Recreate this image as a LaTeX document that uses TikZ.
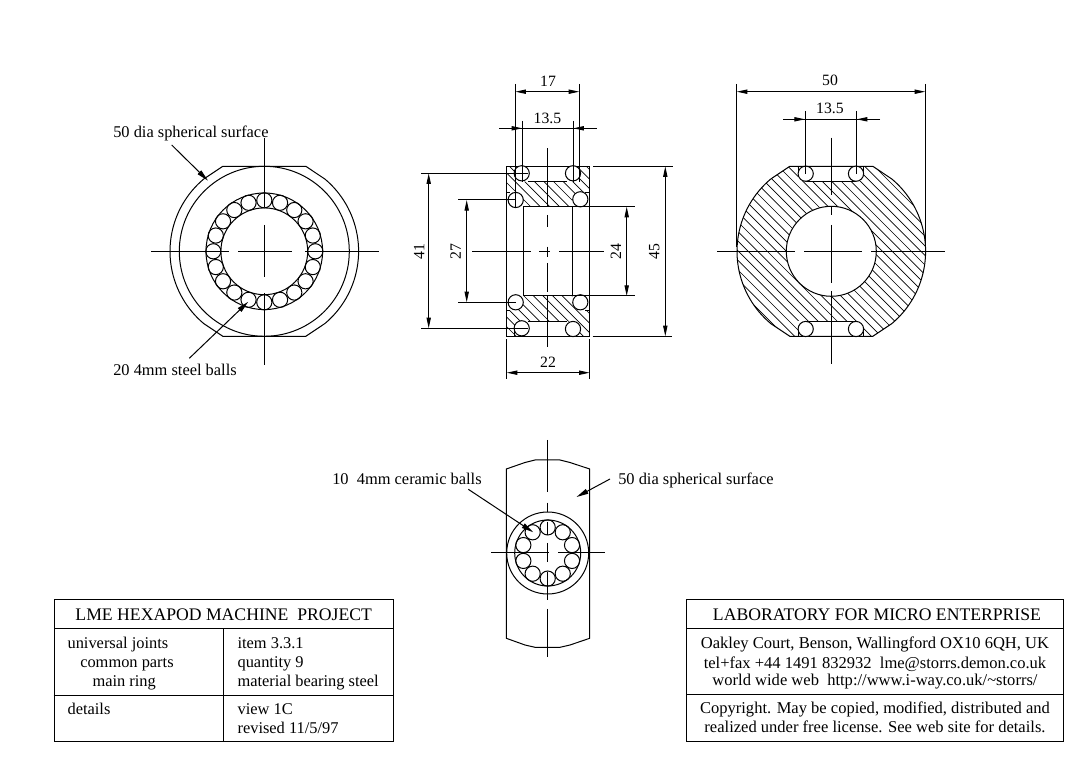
\documentclass[tikz,border=0pt]{standalone}
\usepackage{fontspec}
\setmainfont{Liberation Serif}
\usetikzlibrary{arrows.meta}
\tikzset{
  x=0.75pt,y=-0.75pt,
  ln/.style={line width=0.75pt,black},
  hatchline/.style={line width=0.5pt,black},
  dimline/.style={ln,{Triangle[length=8pt,width=3.2pt]}-{Triangle[length=8pt,width=3.2pt]}},
  tipline/.style={ln,-{Triangle[length=8pt,width=3.2pt]}},
  leader/.style={ln,-{Triangle[length=9pt,width=3.8pt]}},
  lab/.style={inner sep=0pt,anchor=base west,yshift=-0.6pt,font=\fontsize{12.3pt}{14pt}\selectfont},
  labc/.style={inner sep=0pt,anchor=base,yshift=-0.6pt,font=\fontsize{12.4pt}{14pt}\selectfont},
  dimtext/.style={inner sep=0pt,anchor=base,yshift=-0.3pt,font=\fontsize{11.8pt}{14pt}\selectfont},
  labr/.style={inner sep=0pt,anchor=center,rotate=90,font=\fontsize{11.8pt}{14pt}\selectfont},
  ttl/.style={inner sep=0pt,anchor=base,yshift=-0.6pt,font=\fontsize{13.25pt}{15pt}\selectfont},
  ball/.style={ln,fill=white},
}
\newcommand{\hatchlines}{%
  \foreach \c in {-900,-890.4,...,-100} \draw[hatchline] (0,{\c+0}) -- (1090,{\c+1090});
}
\newcommand{\outershape}[2]{%
  (#1-41.5,#2-85) -- (#1+41.5,#2-85) --
  plot[domain=-50:50,samples=41] ({#1+94.3*cos(\x)},{#2+94.3*sin(\x)}) --
  (#1+41.5,#2+85) -- (#1-41.5,#2+85) --
  plot[domain=130:230,samples=41] ({#1+94.3*cos(\x)},{#2+94.3*sin(\x)}) -- cycle}
\begin{document}
\begin{tikzpicture}
\useasboundingbox[fill=white] (0,0) rectangle (1090,780);

% ---------- view 1: main ring face
\draw[ln] \outershape{264.3}{251.3};
\draw[ln] (264.3,251.3) circle[radius=85];
\draw[ln] (264.3,251.3) circle[radius=58.3];
\draw[ln] (264.3,251.3) circle[radius=43.4];
\foreach \a in {0,18,...,342}
  \draw[ln] ({264.3+51*cos(\a)},{251.3+51*sin(\a)}) circle[radius=7.6];
\draw[ln] (151,251.3) -- (229,251.3) (238,251.3) -- (292,251.3) (305,251.3) -- (378.7,251.3);
\draw[ln] (264.3,138) -- (264.3,207) (264.3,225) -- (264.3,277) (264.3,293) -- (264.3,365);
\coordinate (l1a) at (171.7,145);
\coordinate (l1b) at (208,180.7);
\coordinate (l2a) at (189.3,358.3);
\coordinate (l2b) at (248.3,301.7);
\draw[leader] (l1a) -- (l1b);
\draw[leader] (l2a) -- (l2b);
\node[lab] (t1) at (113,136.7) {50 dia spherical surface};
\node[lab] (t2) at (113,375) {20 4mm steel balls};

% ---------- view 2: section
\begin{scope}
\clip (506.7,166.3) -- (521.7,166.3) -- (521.7,181.7) -- (573,181.7) -- (573,166.3) -- (589.7,166.3) -- (589.7,192.3) -- (580.3,192.3) -- (580.3,199.3) -- (572.3,199.3) -- (572.3,206.7) -- (523.3,206.7) -- (523.3,200) -- (515.7,200) -- (515.7,192.3) -- (506.7,192.3) -- cycle;
\hatchlines
\end{scope}
\begin{scope}
\clip (506.7,336.3) -- (521.7,336.3) -- (521.7,321.7) -- (573,321.7) -- (573,336.3) -- (589.7,336.3) -- (589.7,310.3) -- (580.3,310.3) -- (580.3,302.3) -- (572.3,302.3) -- (572.3,296) -- (523.3,296) -- (523.3,302.3) -- (515.7,302.3) -- (515.7,310.3) -- (506.7,310.3) -- cycle;
\hatchlines
\end{scope}
\draw[ln] (506.7,166.3) rectangle (589.7,336.3);
\draw[ln] (528,181.7) -- (567,181.7) (528,321.7) -- (567,321.7);
\draw[ln] (506.7,192.3) -- (510,192.3) (585,192.3) -- (589.7,192.3) (506.7,310.3) -- (510,310.3) (585,310.3) -- (589.7,310.3);
\draw[ln] (523.3,206.7) -- (523.3,296) (572.3,206.7) -- (572.3,296);
\draw[ln] (523.3,206.7) -- (572.3,206.7) (523.3,296) -- (572.3,296);
\foreach \p/\q in {521.7/173.3,573/173.3,515.7/200,580.3/199.3,515.7/302.3,580.3/302.3,521.7/328.3,573/329}
  \draw[ball] (\p,\q) circle[radius=7.6];
% centre lines
\draw[ln] (472.3,251.3) -- (530.7,251.3) (539.3,251.3) -- (550,251.3) (559,251.3) -- (604.3,251.3);
\draw[ln] (547,148.3) -- (547,206.7) (547,215) -- (547,226.7) (547,246.7) -- (547,256.7) (547,263) -- (547,291.7) (547,296) -- (547,346.7);
% extension lines
\draw[ln] (515.3,84) -- (515.3,206.7) (579.3,84) -- (579.3,181.7);
\draw[ln] (522.3,121) -- (522.3,181.7) (573.3,121) -- (573.3,181.7);
\draw[ln] (514.5,328.3) -- (514.5,336.3);
\draw[ln] (593.3,166.3) -- (672.7,166.3) (592.7,336.3) -- (672,336.3);
\draw[ln] (572.3,206.7) -- (635,206.7) (572.3,296) -- (635,296);
\draw[ln] (421,173.3) -- (528,173.3) (421,328.3) -- (528,328.3);
\draw[ln] (458.3,200) -- (515.7,200) (458.3,302.3) -- (515.7,302.3);
\draw[ln] (506.7,339.3) -- (506.7,379.3) (589.7,339.3) -- (589.7,379.3);
% dimensions
\draw[dimline] (515.3,91.7) -- (579.3,91.7);
\draw[ln] (499.3,128.3) -- (596.7,128.3);
\draw[tipline] (499.3,128.3) -- (522.3,128.3);
\draw[tipline] (596.7,128.3) -- (573.3,128.3);
\draw[dimline] (665.3,166.3) -- (665.3,336.3);
\draw[dimline] (626.7,206.7) -- (626.7,296);
\draw[dimline] (428.7,173.3) -- (428.7,328.3);
\draw[dimline] (466.7,200) -- (466.7,302.3);
\draw[dimline] (506.7,372.7) -- (589.7,372.7);
\node[dimtext] (d17) at (548,85.7) {17};
\node[dimtext] (d135) at (547.5,122.7) {13.5};
\node[dimtext] (d22) at (548,366.7) {22};
\node[labr] (d45) at (654.3,251.7) {45};
\node[labr] (d24) at (616,251.3) {24};
\node[labr] (d41) at (419.3,251.7) {41};
\node[labr] (d27) at (455.7,251.7) {27};

% ---------- view 3: section with bore
\begin{scope}
\clip \outershape{831.3}{251.3};
\hatchlines
\end{scope}
\fill[white] (831.3,251.3) circle[radius=45];
\fill[white] (798,166.3) rectangle (863.7,181.3);
\fill[white] (798,321.3) rectangle (863.7,336.3);
\draw[ln] \outershape{831.3}{251.3};
\draw[ln] (831.3,251.3) circle[radius=45];
\draw[ln] (806,181.3) -- (856,181.3) (806,321.3) -- (856,321.3);
\draw[ln] (798,166.3) -- (798,174) (863.7,166.3) -- (863.7,174) (798,329) -- (798,336.3) (863.7,329) -- (863.7,336.3);
\foreach \p/\q in {805.7/173.7,856/173.7,805.7/329,856/329}
  \draw[ball] (\p,\q) circle[radius=7.6];
\draw[ln] (717.3,251.3) -- (794.7,251.3) (804.3,251.3) -- (861.7,251.3) (871.3,251.3) -- (945,251.3);
\draw[ln] (831.3,137.7) -- (831.3,195) (831.3,206.7) -- (831.3,215) (831.3,225) -- (831.3,282.7) (831.3,291) -- (831.3,364);
\draw[ln] (736.7,84) -- (736.7,246.7) (925.3,84) -- (925.3,246.7);
\draw[ln] (805,111) -- (805,173.7) (856.7,111) -- (856.7,173.7);
\draw[dimline] (736.7,91.7) -- (925.3,91.7);
\draw[ln] (783.3,119.3) -- (880,119.3);
\draw[tipline] (783.3,119.3) -- (805,119.3);
\draw[tipline] (880,119.3) -- (856.7,119.3);
\node[dimtext] (d50) at (830,85) {50};
\node[dimtext] (d135b) at (830,113.3) {13.5};

% ---------- view 4: small ring
\draw[ln] (506.3,469) -- (525,462.5) -- (535,460) -- (560,460) -- (570,462.5) -- (589.7,469) -- (589.7,638.3) -- (570,645) -- (560,647.3) -- (535,647.3) -- (525,645) -- (506.3,638.3) -- cycle;
\draw[ln] (547.7,553) circle[radius=41];
\draw[ln] (547.7,553) circle[radius=33];
\foreach \a in {0,36,...,324}
  \draw[ln] ({547.7+25.6*sin(\a)},{553-25.6*cos(\a)}) circle[radius=7.6];
\draw[ln] (491,553) -- (549.3,553) (558.3,553) -- (605,553);
\draw[ln] (547.7,440) -- (547.7,491.7) (547.7,502.7) -- (547.7,511.7) (547.7,521.7) -- (547.7,535) (547.7,543) -- (547.7,561.7) (547.7,571.7) -- (547.7,600) (547.7,609) -- (547.7,656.7);
\coordinate (l3a) at (468.3,489.3);
\coordinate (l3b) at (533.3,532.3);
\coordinate (l4a) at (610,479);
\coordinate (l4b) at (576.5,497);
\draw[leader] (l3a) -- (l3b);
\draw[leader] (l4a) -- (l4b);
\node[lab] (t3) at (332,483.3) {10\ \ 4mm ceramic balls};
\node[lab] (t4) at (618,483.3) {50 dia spherical surface};

% ---------- title block left
\draw[ln] (54.3,599.3) rectangle (393.3,741.7);
\draw[ln] (54.3,628.3) -- (393.3,628.3);
\draw[ln] (53.5,695) -- (394,695);
\draw[ln] (223.7,628.3) -- (223.7,741.7);
\node[ttl] (a0) at (223.7,620) {LME HEXAPOD MACHINE\ \ PROJECT};
\node[lab] (a1) at (67.3,647.3) {universal joints};
\node[lab] (a2) at (80,666.7) {common parts};
\node[lab] (a3) at (92.3,685.7) {main ring};
\node[lab] (a4) at (67.3,714) {details};
\node[lab] (b1) at (237.3,647.3) {item 3.3.1};
\node[lab] (b2) at (237.3,666.7) {quantity 9};
\node[lab] (b3) at (237.3,685.7) {material bearing steel};
\node[lab] (b4) at (237.3,714) {view 1C};
\node[lab] (b5) at (237.3,732.7) {revised 11/5/97};

% ---------- title block right
\draw[ln] (686.7,599.3) rectangle (1063.3,741.7);
\draw[ln] (686.7,628.3) -- (1063.3,628.3);
\draw[ln] (686.7,694.3) -- (1063.3,694.3);
\node[ttl] (c0) at (877,620) {LABORATORY FOR MICRO ENTERPRISE};
\node[labc] (c1) at (875,647.3) {Oakley Court, Benson, Wallingford OX10 6QH, UK};
\node[labc] (c2) at (875,667.3) {tel+fax +44 1491 832932\ \ lme@storrs.demon.co.uk};
\node[labc] (c3) at (875,685) {world wide web\ \ http://www.i-way.co.uk/\textasciitilde storrs/};
\node[labc] (c4) at (875,712.7) {Copyright. May be copied, modified, distributed and};
\node[labc] (c5) at (875,731.7) {realized under free license. See web site for details.};
\end{tikzpicture}
\end{document}
